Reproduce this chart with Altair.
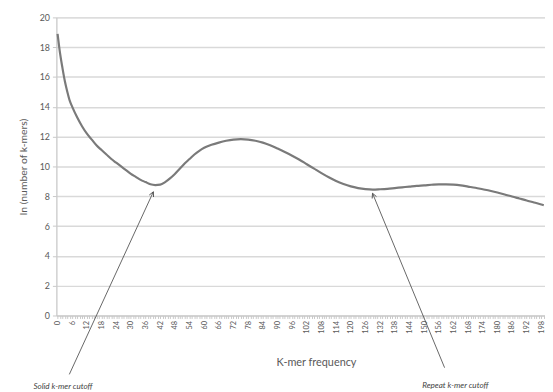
import altair as alt
import pandas as pd

# ---- data ----
k_mer_freq = [0, 1, 2, 3, 4, 5, 6, 8, 10, 12, 14, 16, 18, 20, 22, 24, 26, 28, 30,
              32, 34, 36, 38, 40, 42, 44, 46, 48, 50, 52, 54, 56, 58, 60, 63, 66,
              69, 72, 75, 78, 81, 84, 87, 90, 93, 96, 99, 102, 105, 108, 111, 114,
              117, 120, 123, 126, 129, 132, 135, 138, 141, 144, 147, 150, 153, 156,
              159, 162, 165, 168, 171, 174, 177, 180, 183, 186, 189, 192, 195, 198, 199]
ln_count = [18.9, 17.6, 16.6, 15.7, 15.0, 14.4, 14.0, 13.3, 12.7, 12.2, 11.8, 11.4,
            11.1, 10.8, 10.5, 10.25, 10.0, 9.75, 9.5, 9.3, 9.1, 8.95, 8.8, 8.75,
            8.78, 8.95, 9.2, 9.5, 9.85, 10.2, 10.5, 10.8, 11.05, 11.25, 11.45, 11.6,
            11.72, 11.8, 11.83, 11.8, 11.72, 11.6, 11.42, 11.2, 10.97, 10.72, 10.45,
            10.15, 9.85, 9.55, 9.27, 9.02, 8.82, 8.66, 8.55, 8.48, 8.45, 8.47, 8.5,
            8.55, 8.6, 8.65, 8.7, 8.73, 8.77, 8.8, 8.8, 8.78, 8.73, 8.65, 8.57, 8.47,
            8.37, 8.25, 8.12, 7.98, 7.85, 7.72, 7.58, 7.45, 7.4]

n_categories = 200
x_label_step = 6
y_ticks = list(range(0, 21, 2))

note_text = ["Solid k-mer cutoff", "Repeat k-mer cutoff"]
note_tip_k = [39.2, 128.9]
note_tip_ln = [8.3, 8.2]
note_tail_k = [4.8, 158.4]
note_tail_ln = [-3.95, -3.5]
note_text_k = [2.2, 162.8]
note_text_ln = [-4.8, -4.7]
head_angle = [25, 337]

curve = pd.DataFrame({"k": k_mer_freq, "ln": ln_count})
notes = pd.DataFrame({
    "text": note_text, "tk": note_tip_k, "tl": note_tip_ln,
    "ak": note_tail_k, "al": note_tail_ln,
    "xk": note_text_k, "xl": note_text_ln, "ang": head_angle,
})

FONT = "Lato"
GRAY_TXT = "#595959"

x_scale = alt.Scale(domain=[-0.5, n_categories - 0.5], nice=False, zero=False)
y_scale = alt.Scale(domain=[0, 20], nice=False)

x_axis = alt.Axis(values=list(range(n_categories)),
                  labelExpr=f"datum.value % {x_label_step} === 0 ? datum.label : ''",
                  labelAngle=-90, labelOverlap=False, labelFontSize=7.5,
                  labelColor=GRAY_TXT, labelPadding=2,
                  tickSize=3, tickColor="#c8c8c8", domainColor="#c8c8c8",
                  grid=False, titleFontSize=11, titleColor=GRAY_TXT,
                  titleFontWeight="normal", titlePadding=24, titleX=263)
y_axis = alt.Axis(values=y_ticks, labelOverlap=False, labelFontSize=9,
                  labelColor=GRAY_TXT, tickSize=4, tickColor="#c8c8c8",
                  domainColor="#c8c8c8", grid=True, gridColor="#d9d9d9",
                  gridWidth=1.5, labelPadding=3, titleFontSize=10.5,
                  titleColor=GRAY_TXT, titleFontWeight="normal", titlePadding=11)

X_T = "K-mer frequency"
Y_T = "ln (number of k-mers)"

line = alt.Chart(curve).mark_line(
    color="#7a7a7a", strokeWidth=2.2, interpolate="monotone"
).encode(
    x=alt.X("k:Q", scale=x_scale, title=X_T, axis=x_axis),
    y=alt.Y("ln:Q", scale=y_scale, title=Y_T, axis=y_axis),
)

arrows = alt.Chart(notes).mark_rule(color="#555555", strokeWidth=0.9).encode(
    x=alt.X("ak:Q", scale=x_scale, title=X_T, axis=x_axis),
    y=alt.Y("al:Q", scale=y_scale, title=Y_T, axis=y_axis),
    x2="tk:Q", y2="tl:Q"
)

heads = alt.Chart(notes).mark_point(
    shape="M -0.5 1 L 0 0 L 0.5 1", filled=False, color="#555555",
    strokeWidth=0.9, size=90, opacity=1
).encode(
    x=alt.X("tk:Q", scale=x_scale, title=X_T, axis=x_axis),
    y=alt.Y("tl:Q", scale=y_scale, title=Y_T, axis=y_axis),
    angle=alt.Angle("ang:Q", scale=None)
)

labels = alt.Chart(notes).mark_text(
    font=FONT, fontSize=8.2, fontStyle="italic", color="#3f3f3f", align="center",
    baseline="middle"
).encode(
    x=alt.X("xk:Q", scale=x_scale, title=X_T, axis=x_axis),
    y=alt.Y("xl:Q", scale=y_scale, title=Y_T, axis=y_axis),
    text="text:N"
)

chart = alt.layer(line, arrows, heads, labels).properties(
    width=495, height=302,
    autosize=alt.AutoSizeParams(type="none"),
    padding={"left": 49, "top": 7, "right": 0, "bottom": 76},
).configure_view(stroke=None).configure(font=FONT)

chart.save("out.html", embed_options={"renderer": "svg", "actions": False})
